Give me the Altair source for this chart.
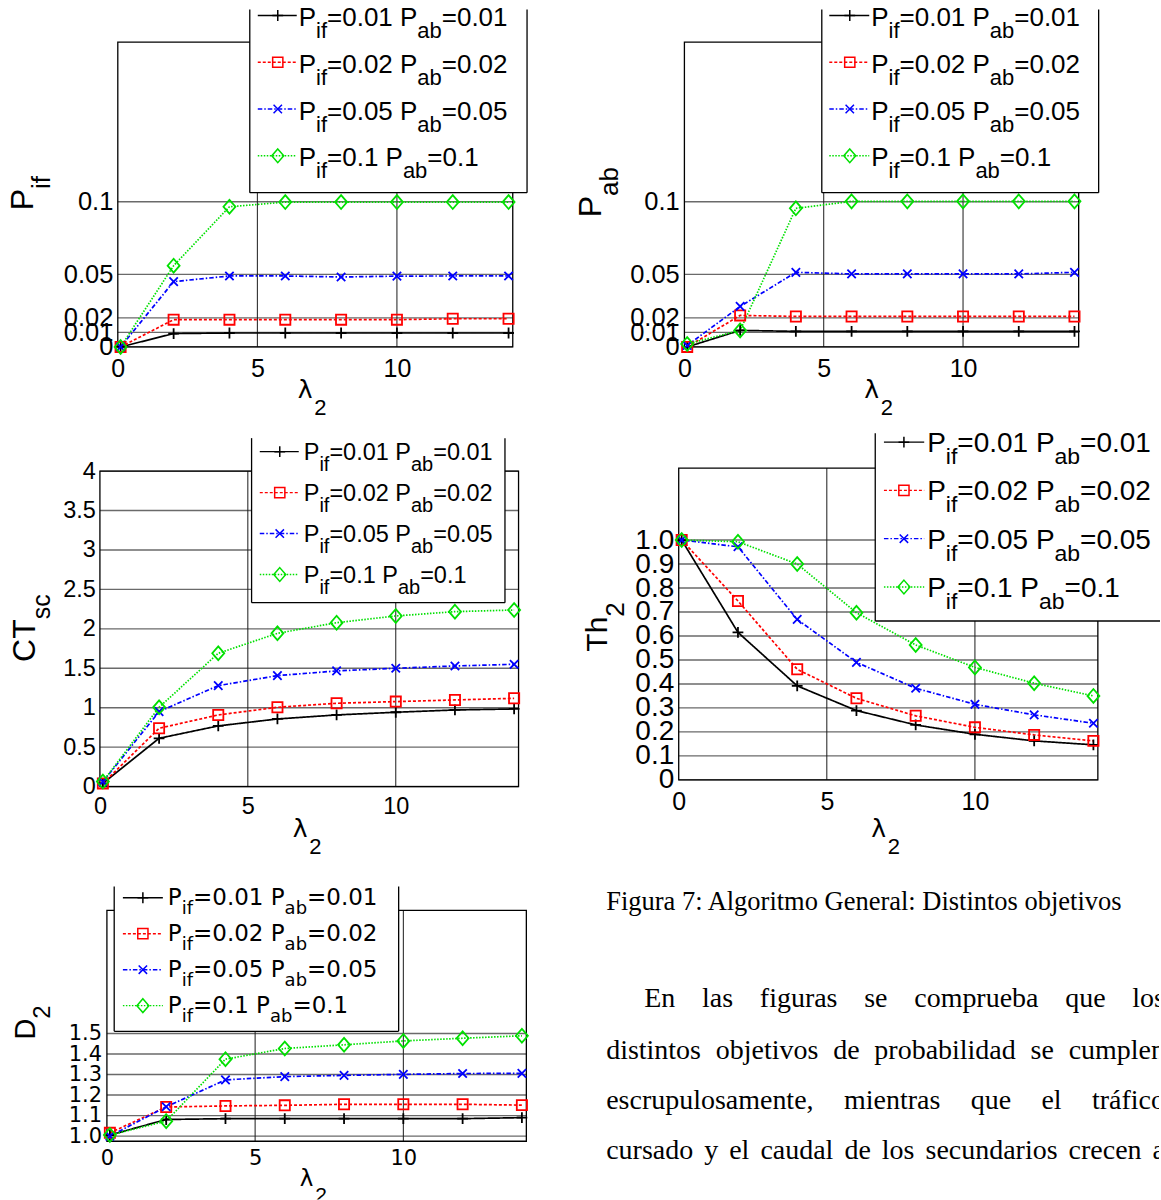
import altair as alt
import pandas as pd

# ---------------- data ----------------
LAMBDA = [0.1, 2, 4, 6, 8, 10, 12, 14]
SERIES = ["Pif=0.01 Pab=0.01", "Pif=0.02 Pab=0.02", "Pif=0.05 Pab=0.05", "Pif=0.1 Pab=0.1"]
TARGETS = ["0.01", "0.02", "0.05", "0.1"]

P_IF = [
    [0.0, 0.0092, 0.0096, 0.0096, 0.0096, 0.0096, 0.0096, 0.0096],
    [0.0, 0.0188, 0.0188, 0.0188, 0.0188, 0.0188, 0.0194, 0.0194],
    [0.0, 0.0450, 0.0489, 0.0489, 0.0482, 0.0488, 0.0489, 0.0489],
    [0.0, 0.0560, 0.0966, 0.0998, 0.0998, 0.0998, 0.0998, 0.0998],
]
P_AB = [
    [0.0, 0.0114, 0.0107, 0.0107, 0.0107, 0.0107, 0.0107, 0.0107],
    [0.0, 0.0217, 0.0210, 0.0210, 0.0210, 0.0210, 0.0210, 0.0210],
    [0.001, 0.0279, 0.0514, 0.0503, 0.0503, 0.0503, 0.0503, 0.0514],
    [0.002, 0.0114, 0.0955, 0.1003, 0.1003, 0.1003, 0.1003, 0.1003],
]
CT_SC = [
    [0.04, 0.612, 0.769, 0.857, 0.908, 0.942, 0.971, 0.984],
    [0.04, 0.739, 0.908, 1.005, 1.056, 1.077, 1.098, 1.119],
    [0.06, 0.950, 1.280, 1.407, 1.466, 1.500, 1.529, 1.550],
    [0.063, 1.005, 1.690, 1.943, 2.078, 2.163, 2.218, 2.239],
]
TH_2 = [
    [1.0, 0.615, 0.392, 0.289, 0.229, 0.190, 0.1625, 0.146],
    [1.0, 0.746, 0.461, 0.340, 0.267, 0.219, 0.1875, 0.1625],
    [1.0, 0.972, 0.669, 0.490, 0.382, 0.315, 0.271, 0.236],
    [1.0, 0.993, 0.900, 0.697, 0.5625, 0.469, 0.403, 0.350],
]
D_2 = [
    [1.005, 1.081, 1.085, 1.085, 1.085, 1.085, 1.085, 1.090],
    [1.016, 1.142, 1.147, 1.150, 1.155, 1.155, 1.155, 1.151],
    [1.000, 1.143, 1.274, 1.290, 1.296, 1.301, 1.305, 1.306],
    [1.005, 1.073, 1.375, 1.427, 1.445, 1.464, 1.477, 1.489],
]

X_TICKS = [0, 5, 10]
PIF_TICKS = [0, 0.01, 0.02, 0.05, 0.1]
CT_TICKS = [0, 0.5, 1, 1.5, 2, 2.5, 3, 3.5, 4]
TH_TICKS = [0, 0.1, 0.2, 0.3, 0.4, 0.5, 0.6, 0.7, 0.8, 0.9, 1.0]
D_TICKS = [1.0, 1.1, 1.2, 1.3, 1.4, 1.5]

CAPTION = "Figura 7: Algoritmo General: Distintos objetivos"
PARAGRAPH = [
    "En las figuras se comprueba que los",
    "distintos objetivos de probabilidad se cumplen",
    "escrupulosamente, mientras que el tráfico",
    "cursado y el caudal de los secundarios crecen a",
]

# ---------------- styles ----------------
SANS = "Liberation Sans"
DEJAVU = "DejaVu Sans"
SERIF = "Liberation Serif"
CELL_W, CELL_H = 580, 400
X_DOMAIN = [0, 14.15]
HGRID = "#6a6a6a"
VGRID = "#1a1a1a"
COLORS = ["#000000", "#ff0000", "#0000ff", "#00e000"]
DASHES = [[1, 0], [3, 2], [4.5, 2, 1.5, 2], [1.5, 1.5]]
PLUS = "M-0.9,0H0.9M0,-0.9V0.9"
SQUARE = "M-0.85,-0.85H0.85V0.85H-0.85Z"
XSHAPE = "M-0.7,-0.7L0.7,0.7M-0.7,0.7L0.7,-0.7"
DIAMOND = "M0,-1.15L1.0,0L0,1.15L-1.0,0Z"
SHAPES = [PLUS, SQUARE, XSHAPE, DIAMOND]
MSIZE = 144
LINE_W = 1.7
GFMT = "format(datum.value, '~g')"

W_SANS = {"P": 667, "i": 222, "f": 278, "a": 556, "b": 556, "=": 584, ".": 278, " ": 278,
          "C": 722, "T": 611, "h": 556, "D": 722, "s": 500, "c": 500}
W_DEJAVU = {"P": 603, "i": 278, "f": 352, "a": 613, "b": 635, "=": 838, ".": 318, " ": 318, "D": 770}
W_SERIF = {"a": 444, "b": 500, "c": 444, "d": 500, "e": 444, "f": 333, "g": 500, "h": 500, "i": 278,
           "j": 278, "k": 500, "l": 278, "m": 778, "n": 500, "o": 500, "p": 500, "q": 500, "r": 333,
           "s": 389, "t": 278, "u": 500, "v": 500, "w": 722, "x": 500, "y": 500, "z": 444, "á": 444,
           ",": 250, " ": 250, "E": 611, "F": 556, "A": 722, "G": 722, "D": 722, "7": 500, ":": 278}


def tw(s, size, font):
    table = {SANS: W_SANS, DEJAVU: W_DEJAVU, SERIF: W_SERIF}[font]
    dflt = 636 if font == DEJAVU else 556
    return sum(table.get(ch, dflt) for ch in s) * size / 1000.0


DUMMY = pd.DataFrame({"k": [0]})


def chrome():
    return alt.Chart(DUMMY)


def vtext(cx, cy, x, y, s, size, font, angle=0, clip=False):
    return alt.Chart(pd.DataFrame({"t": [s]})).mark_text(
        fontSize=size, font=font, align="left", baseline="alphabetic", angle=angle,
        color="black", clip=clip).encode(x=alt.value(x - cx), y=alt.value(y - cy), text="t:N")


def vrule(cx, cy, x1, y1, x2, y2, color="black", width=1.2, dash=None):
    mk = dict(color=color, strokeWidth=width)
    if dash is not None:
        mk["strokeDash"] = dash
    return chrome().mark_rule(**mk).encode(x=alt.value(x1 - cx), y=alt.value(y1 - cy),
                                           x2=alt.value(x2 - cx), y2=alt.value(y2 - cy))


def vrect(cx, cy, x1, y1, x2, y2):
    return chrome().mark_rect(color="white").encode(x=alt.value(x1 - cx), y=alt.value(y1 - cy),
                                                    x2=alt.value(x2 - cx), y2=alt.value(y2 - cy))


def vpoint(cx, cy, x, y, shape, color):
    return chrome().mark_point(shape=shape, size=MSIZE, filled=False, color=color,
                               strokeWidth=1.5, opacity=1).encode(x=alt.value(x - cx), y=alt.value(y - cy))


PANELS = [
    dict(cell=(0, 0), vals=P_IF, yticks=PIF_TICKS, ydom=[0, 0.21],
         xl=117.9, xr=513.2, yb=346.7, yt=41.7, font=SANS,
         xfs=25, xpad=30, yfs=25.5, ypad=5, ylabel_expr=GFMT,
         ytitle=("P", "if", 33.5, 210, 32, 26, 17),
         xtitle=(298, 398, 25, 314.5, 415, 22),
         leg=dict(x1=250, x2=527.5, top=9, bot=192.3, right=True, tx=299, lx1=258, lx2=297,
                  mx=278, base=[25.5, 72.3, 119.1, 165.9], fs=26, ss=22, sdy=12, ldy=10.5, font=SANS)),
    dict(cell=(1, 0), vals=P_AB, yticks=PIF_TICKS, ydom=[0, 0.21],
         xl=685, xr=1079.6, yb=346.7, yt=41.7, font=SANS,
         xfs=25, xpad=30, yfs=25.5, ypad=5.2, ylabel_expr=GFMT,
         ytitle=("P", "ab", 601.5, 217, 32, 26, 17),
         xtitle=(865, 398, 25, 881.5, 415, 22),
         leg=dict(x1=822.5, x2=1099.6, top=9, bot=192.3, right=True, tx=872, lx1=830, lx2=870,
                  mx=850.5, base=[25.5, 72.3, 119.1, 165.9], fs=26, ss=22, sdy=12, ldy=10.5, font=SANS)),
    dict(cell=(0, 1), vals=CT_SC, yticks=CT_TICKS, ydom=[0, 4],
         xl=100, xr=519, yb=786.7, yt=471, font=SANS,
         xfs=23.5, xpad=26.6, yfs=23.5, ypad=4.5, ylabel_expr=GFMT,
         ytitle=("CT", "sc", 35, 662, 32, 25, 15),
         xtitle=(293, 837, 25, 309.5, 854, 22),
         leg=dict(x1=251.8, x2=505.4, top=438, bot=602.7, right=True, tx=304, lx1=260, lx2=299,
                  mx=280, base=[460, 501, 542, 583], fs=23.5, ss=20, sdy=10.5, ldy=8.5, font=SANS)),
    dict(cell=(1, 1), vals=TH_2, yticks=TH_TICKS, ydom=[0, 1.3],
         xl=679.3, xr=1098.8, yb=780, yt=468, font=SANS,
         xfs=25, xpad=30, yfs=28, ypad=5,
         ylabel_expr="datum.value == 0 ? '0' : format(datum.value, '.1f')",
         ytitle=("Th", "2", 608, 651.7, 30, 26, 17),
         xtitle=(872, 837, 25, 888.5, 854, 22),
         leg=dict(x1=876, x2=1161, top=433, bot=621, right=False, tx=928, lx1=884.7, lx2=925,
                  mx=904.7, base=[452, 500.3, 548.6, 597], fs=28, ss=23, sdy=12, ldy=10, font=SANS)),
    dict(cell=(0, 2), vals=D_2, yticks=D_TICKS, ydom=[0.975, 2.1],
         xl=107, xr=526.8, yb=1141.7, yt=910.7, font=DEJAVU,
         xfs=21, xpad=23.3, yfs=21, ypad=5.3, ylabel_expr="format(datum.value, '.1f')",
         ytitle=("D", "2", 35, 1040, 29, 24, 15),
         xtitle=(300, 1187, 23, 315.5, 1203, 21),
         leg=dict(x1=114.3, x2=399, top=886.7, bot=1031.7, right=True, tx=168, lx1=123, lx2=163,
                  mx=143, base=[905, 941, 977, 1013], fs=23, ss=18, sdy=9.5, ldy=7, font=DEJAVU)),
]


def make_panel(p):
    col, row = p["cell"]
    cx, cy = col * CELL_W, row * CELL_H
    xs = alt.Scale(domain=X_DOMAIN, range=[p["xl"] - cx, p["xr"] - cx], nice=False, zero=False)
    ys = alt.Scale(domain=p["ydom"], range=[p["yb"] - cy, p["yt"] - cy], nice=False, zero=False)
    xaxis = alt.Axis(values=X_TICKS, offset=-(CELL_H - (p["yb"] - cy)), title=None, domain=False,
                     ticks=False, tickSize=0, grid=False, labelFont=p["font"], labelFontSize=p["xfs"],
                     labelPadding=p["xpad"], labelBaseline="alphabetic", labelFlush=False,
                     labelOverlap=False, labelColor="black")
    yaxis = alt.Axis(values=p["yticks"], offset=-(p["xl"] - cx), title=None, domain=False, ticks=False,
                     tickSize=0, grid=False, labelFont=p["font"], labelFontSize=p["yfs"],
                     labelPadding=p["ypad"], labelAlign="right", labelBaseline="middle",
                     labelFlush=False, labelOverlap=False, labelColor="black",
                     labelExpr=p["ylabel_expr"])
    X = alt.X("lam:Q", scale=xs, axis=xaxis)
    Y = alt.Y("val:Q", scale=ys, axis=yaxis)

    rows = []
    for sname, ys_ in zip(SERIES, p["vals"]):
        for xv, yv in zip(LAMBDA, ys_):
            rows.append(dict(lam=xv, val=yv, s=sname))
    df = pd.DataFrame(rows)

    vgrid = pd.DataFrame({"lam": [5, 10], "val": [p["ydom"][0]] * 2, "val2": [p["ydom"][1]] * 2})
    hgrid = pd.DataFrame({"val": p["yticks"], "lam": [X_DOMAIN[0]] * len(p["yticks"]),
                          "lam2": [X_DOMAIN[1]] * len(p["yticks"])})
    box = pd.DataFrame({"lam": [X_DOMAIN[0]], "lam2": [X_DOMAIN[1]],
                        "val": [p["ydom"][0]], "val2": [p["ydom"][1]]})

    C = alt.Color("s:N", scale=alt.Scale(domain=SERIES, range=COLORS), legend=None)
    D = alt.StrokeDash("s:N", scale=alt.Scale(domain=SERIES, range=DASHES), legend=None)
    S = alt.Shape("s:N", scale=alt.Scale(domain=SERIES, range=SHAPES), legend=None)

    layers = [
        alt.Chart(hgrid).mark_rule(color=HGRID, strokeWidth=1.4).encode(y=Y, x=X, x2="lam2:Q"),
        alt.Chart(vgrid).mark_rule(color=VGRID, strokeWidth=1).encode(x=X, y=Y, y2="val2:Q"),
        alt.Chart(box).mark_rect(filled=False, color="black", strokeWidth=1.3).encode(
            x=X, x2="lam2:Q", y=Y, y2="val2:Q"),
        alt.Chart(df).mark_line(strokeWidth=LINE_W).encode(x=X, y=Y, color=C, strokeDash=D),
        alt.Chart(df).mark_point(filled=False, size=MSIZE, strokeWidth=1.8, opacity=1).encode(
            x=X, y=Y, color=C, shape=S),
    ]

    # legend box
    L = p["leg"]
    layers.append(vrect(cx, cy, L["x1"], L["top"], L["x2"], L["bot"]))
    layers.append(vrule(cx, cy, L["x1"], L["top"], L["x1"], L["bot"], width=1.3))
    if L["right"]:
        layers.append(vrule(cx, cy, L["x2"], L["top"], L["x2"], L["bot"], width=1.3))
    layers.append(vrule(cx, cy, L["x1"], L["bot"], L["x2"], L["bot"], width=1.3))
    for i, tgt in enumerate(TARGETS):
        b = L["base"][i]
        ly = b - L["ldy"]
        layers.append(vrule(cx, cy, L["lx1"], ly, L["lx2"], ly, color=COLORS[i], width=1.4,
                            dash=None if i == 0 else DASHES[i]))
        layers.append(vpoint(cx, cy, L["mx"], ly, SHAPES[i], COLORS[i]))
        pieces = [("P", False), ("if", True), ("=" + tgt + " P", False), ("ab", True), ("=" + tgt, False)]
        x = L["tx"]
        for txt, sub in pieces:
            size = L["ss"] if sub else L["fs"]
            yy = b + L["sdy"] if sub else b
            layers.append(vtext(cx, cy, x, yy, txt, size, L["font"]))
            x += tw(txt, size, L["font"])

    # y title (rotated, with subscript)
    main, sub, bx, sy, fs, ss, sdx = p["ytitle"]
    layers.append(vtext(cx, cy, bx, sy, main, fs, SANS, angle=270))
    layers.append(vtext(cx, cy, bx + sdx, sy - tw(main, fs, SANS), sub, ss, SANS, angle=270))

    # x title lambda_2
    lx, lyb, lfs, sx, syb, sfs = p["xtitle"]
    clip = row == 2
    layers.append(vtext(cx, cy, lx, lyb, "λ", lfs, DEJAVU, clip=clip))
    layers.append(vtext(cx, cy, sx, syb, "2", sfs, SANS, clip=clip))

    return alt.layer(*layers).properties(width=CELL_W, height=CELL_H)


def justify(words, x0, x1, size):
    widths = [tw(w, size, SERIF) for w in words]
    gap = (x1 - x0 - sum(widths)) / (len(words) - 1)
    out, x = [], x0
    for w in widths:
        out.append(x)
        x += w + gap
    return out


def make_text_cell():
    cx, cy = CELL_W, 2 * CELL_H
    layers = [vtext(cx, cy, 606.7, 910.7, CAPTION, 26.5, SERIF, clip=True)]
    bases = [1007.7, 1059, 1109.3, 1159.3]
    for i, line in enumerate(PARAGRAPH):
        words = line.split(" ")
        x0 = 644.8 if i == 0 else 606.7
        for w, x in zip(words, justify(words, x0, 1166, 28)):
            layers.append(vtext(cx, cy, x, bases[i], w, 28, SERIF, clip=True))
    return alt.layer(*layers).properties(width=CELL_W, height=CELL_H)


cells = [make_panel(p) for p in PANELS] + [make_text_cell()]

chart = alt.concat(*cells, columns=2, spacing=0, bounds="flush").properties(
    padding=0, background="white"
).configure_view(stroke=None, fill="transparent")

chart.save("out.html", embed_options={"renderer": "svg", "actions": False})
